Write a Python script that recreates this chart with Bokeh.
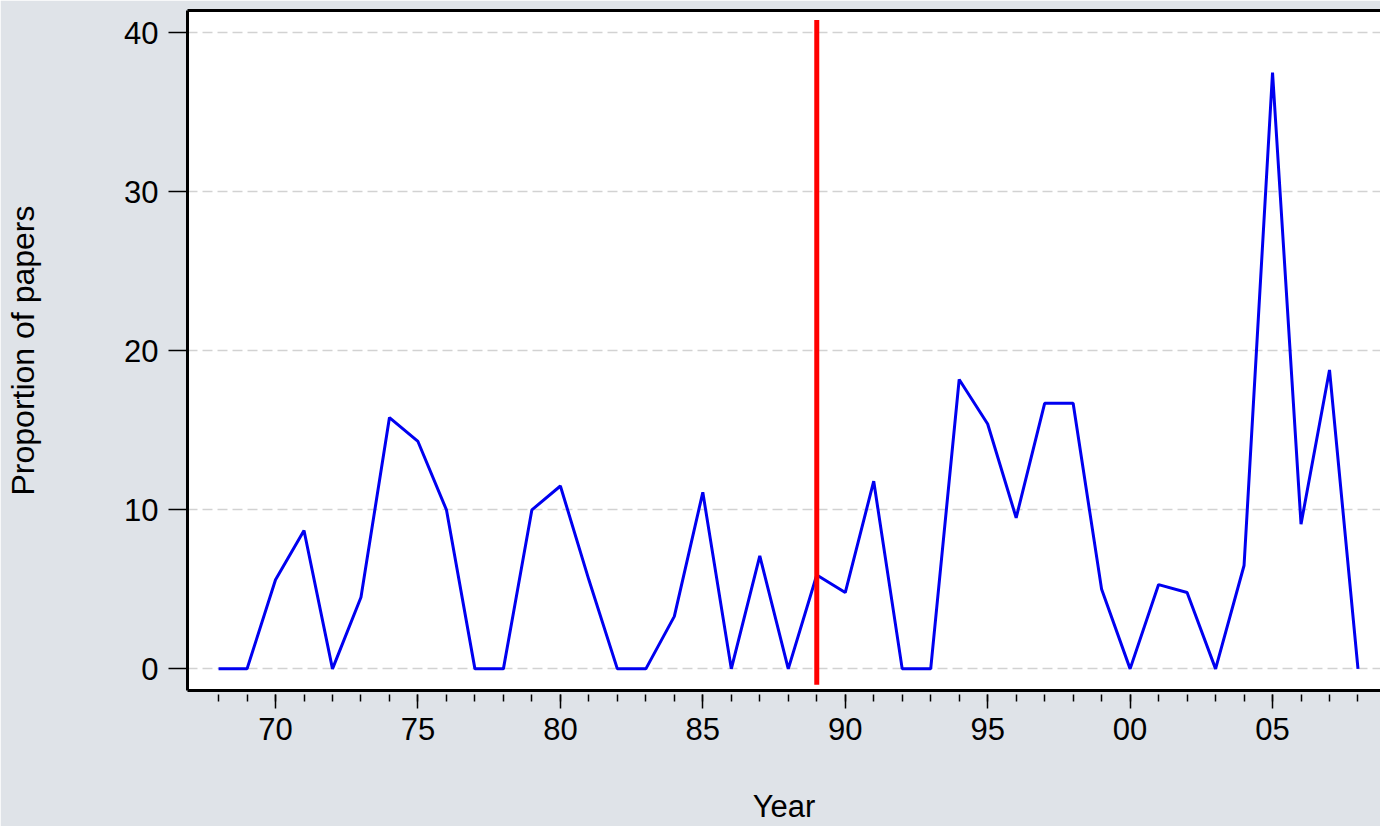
from bokeh.plotting import figure
from bokeh.models import Range1d, FixedTicker, LinearAxis
from bokeh.embed import file_html
from bokeh.resources import INLINE

# ---- data ----
years = list(range(1968, 2009))
proportion = [0.0, 0.0, 5.6, 8.7, 0.0, 4.5, 15.8, 14.3, 10.0, 0.0,
              0.0, 10.0, 11.5, 5.6, 0.0, 0.0, 3.3, 11.1, 0.0, 7.1,
              0.0, 5.9, 4.8, 11.8, 0.0, 0.0, 18.2, 15.4, 9.5, 16.7,
              16.7, 5.0, 0.0, 5.3, 4.8, 0.0, 6.5, 37.5, 9.1, 18.8,
              0.0]
x_major_ticks = [1970, 1975, 1980, 1985, 1990, 1995, 2000, 2005]
x_tick_labels = ["70", "75", "80", "85", "90", "95", "00", "05"]
y_ticks = [0, 10, 20, 30, 40]
break_year = [1989]
break_low = [-1.0]
break_high = [40.8]

FONT = "Liberation Sans"
BG = "#dfe3e8"

p = figure(width=1380, height=826,
           x_range=Range1d(1966.91, 2008.79), y_range=Range1d(-1.36, 41.4),
           output_backend="svg", toolbar_location=None,
           min_border_left=187, min_border_right=0,
           min_border_top=10, min_border_bottom=135)
p.border_fill_color = BG
p.background_fill_color = "white"
p.outline_line_color = None

p.line(years, proportion, line_color="#0000f0", line_width=3)
p.segment(x0=break_year, y0=break_low, x1=break_year, y1=break_high,
          line_color="#ff0000", line_width=5)

# x axis
xa = p.xaxis[0]
xa.ticker = FixedTicker(ticks=x_major_ticks, minor_ticks=years)
xa.major_label_overrides = {float(k): v for k, v in zip(x_major_ticks, x_tick_labels)}
xa.axis_line_width = 3
xa.axis_line_color = "black"
xa.major_tick_in = -4
xa.major_tick_out = 18
xa.minor_tick_in = -4
xa.minor_tick_out = 11
xa.major_tick_line_color = "black"
xa.minor_tick_line_color = "black"
xa.major_tick_line_width = 1.5
xa.minor_tick_line_width = 1.5
xa.major_label_standoff = 9
xa.major_label_text_font = FONT
xa.major_label_text_font_size = "31px"
xa.major_label_text_color = "black"
xa.axis_label = "Year"
xa.axis_label_text_font = FONT
xa.axis_label_text_font_size = "31px"
xa.axis_label_text_font_style = "normal"
xa.axis_label_text_color = "black"
xa.axis_label_standoff = 46

# y axis
ya = p.yaxis[0]
ya.ticker = FixedTicker(ticks=y_ticks, minor_ticks=[])
ya.axis_line_width = 3
ya.axis_line_color = "black"
ya.major_tick_in = 0
ya.major_tick_out = 19
ya.minor_tick_out = 0
ya.minor_tick_in = 0
ya.major_tick_line_width = 1.5
ya.major_label_standoff = 10
ya.major_label_text_font = FONT
ya.major_label_text_font_size = "31px"
ya.major_label_text_color = "black"
ya.axis_label = "Proportion of papers"
ya.axis_label_text_font = FONT
ya.axis_label_text_font_size = "32px"
ya.axis_label_text_font_style = "normal"
ya.axis_label_text_color = "black"
ya.axis_label_standoff = 80

# top border line
top = LinearAxis(ticker=FixedTicker(ticks=[], minor_ticks=[]),
                 axis_line_width=3, axis_line_color="black",
                 major_tick_out=0, major_tick_in=0,
                 minor_tick_out=0, minor_tick_in=0,
                 major_label_standoff=0,
                 major_label_text_font_size="0px")
p.add_layout(top, "above")

# grid
p.xgrid.visible = False
p.ygrid.ticker = FixedTicker(ticks=y_ticks)
p.ygrid.grid_line_color = "#d2d2d2"
p.ygrid.grid_line_width = 1.5
p.ygrid.grid_line_dash = "10 5"

open("out.html", "w").write(file_html(p, INLINE))
